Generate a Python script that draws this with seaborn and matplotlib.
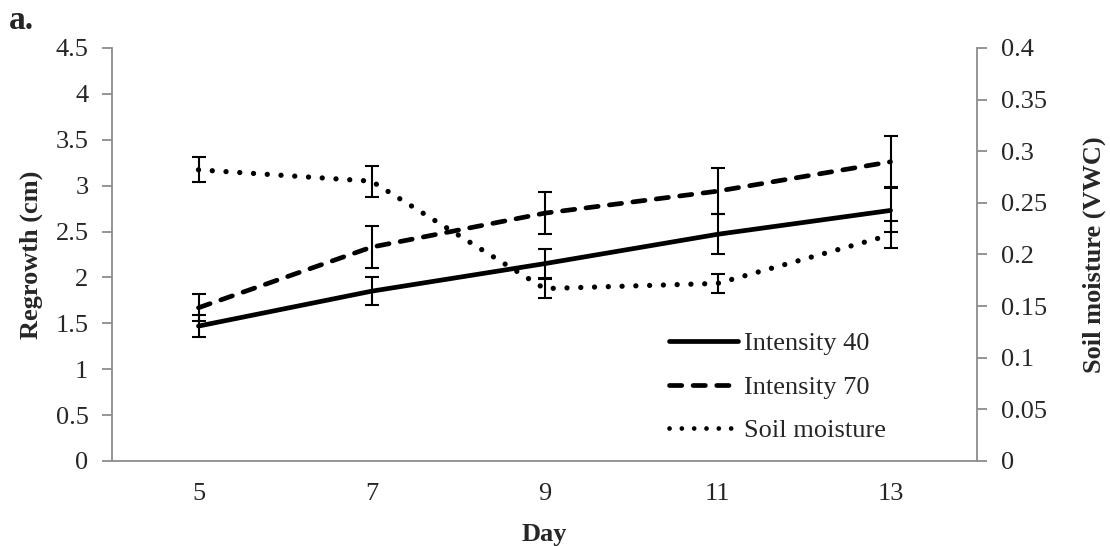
import matplotlib
matplotlib.use("Agg")
import matplotlib.pyplot as plt
from matplotlib.lines import Line2D
import pandas as pd
import seaborn as sb

days = [5, 7, 9, 11, 13]
intensity_40 = [1.47, 1.85, 2.15, 2.47, 2.73]
intensity_40_err = [0.12, 0.15, 0.16, 0.22, 0.24]
intensity_70 = [1.67, 2.33, 2.70, 2.94, 3.26]
intensity_70_err = [0.15, 0.23, 0.23, 0.25, 0.28]
soil_moisture = [0.282, 0.271, 0.167, 0.172, 0.219]
soil_moisture_err = [0.012, 0.015, 0.009, 0.009, 0.013]

grey = "#8c8c8c"
font_size = 19
lw = 3.4

sb.set_style("white")
plt.rcParams['font.family'] = ['Liberation Serif', 'DejaVu Serif']
plt.rcParams['font.size'] = font_size

fig = plt.figure(figsize=(11.1, 5.46), dpi=100)
ax = fig.add_axes([0.1009, 0.1557, 0.7793, 0.7564])
ax2 = ax.twinx()

df = pd.DataFrame({"Day": days, "I40": intensity_40, "I70": intensity_70, "Soil": soil_moisture})

dash_style = (0, (2.6, 2.4))
dot_style = (0, (0.01, 2.6))

sb.lineplot(data=df, x="Day", y="I40", ax=ax, color="black", linewidth=lw,
            solid_capstyle="round")
sb.lineplot(data=df, x="Day", y="I70", ax=ax, color="black", linewidth=lw,
            linestyle=dash_style, dash_capstyle="round")
sb.lineplot(data=df, x="Day", y="Soil", ax=ax2, color="black", linewidth=lw + 0.4,
            linestyle=dot_style, dash_capstyle="round")

ax.errorbar(days, intensity_40, yerr=intensity_40_err, fmt="none", ecolor="black",
            elinewidth=1.5, capsize=5, capthick=1.5)
ax.errorbar(days, intensity_70, yerr=intensity_70_err, fmt="none", ecolor="black",
            elinewidth=1.5, capsize=5, capthick=1.5)
ax2.errorbar(days, soil_moisture, yerr=soil_moisture_err, fmt="none", ecolor="black",
             elinewidth=1.5, capsize=5, capthick=1.5)

# axes limits and ticks
ax.set_xlim(4, 14)
ax.set_ylim(0, 4.5)
ax2.set_ylim(0, 0.4)
ax.set_yticks([0, 0.5, 1, 1.5, 2, 2.5, 3, 3.5, 4, 4.5])
ax.set_yticklabels(["0", "0.5", "1", "1.5", "2", "2.5", "3", "3.5", "4", "4.5"])
ax2.set_yticks([0, 0.05, 0.1, 0.15, 0.2, 0.25, 0.3, 0.35, 0.4])
ax2.set_yticklabels(["0", "0.05", "0.1", "0.15", "0.2", "0.25", "0.3", "0.35", "0.4"])
ax.set_xticks([4, 6, 8, 10, 12, 14])
ax.set_xticklabels([])
ax.set_xticks(days, minor=True)
ax.set_xticklabels([str(d) for d in days], minor=True)

ax.tick_params(axis="x", which="major", length=8, width=1.3, color=grey, direction="out")
ax.tick_params(axis="x", which="minor", length=0, pad=16, labelsize=font_size)
ax.tick_params(axis="y", length=7, width=1.3, color=grey, direction="out", pad=10,
               labelsize=font_size, left=True)
ax2.tick_params(axis="y", length=7, width=1.3, color=grey, direction="out", pad=10,
                labelsize=font_size, right=True)

for a in (ax, ax2):
    for s in a.spines.values():
        s.set_visible(False)
ax.spines["left"].set_visible(True)
ax.spines["bottom"].set_visible(True)
ax2.spines["right"].set_visible(True)
for s in (ax.spines["left"], ax.spines["bottom"], ax2.spines["right"]):
    s.set_color(grey)
    s.set_linewidth(1.3)

ax.set_xlabel("Day", fontweight="bold", fontsize=font_size, labelpad=13)
ax.set_ylabel("Regrowth (cm)", fontweight="bold", fontsize=font_size, labelpad=9)
ax2.set_ylabel("Soil moisture (VWC)", fontweight="bold", fontsize=font_size, labelpad=26)

fig.text(0.008, 0.99, "a.", fontweight="bold", fontsize=24, va="top", ha="left")

handles = [
    Line2D([], [], color="black", linewidth=lw, solid_capstyle="round"),
    Line2D([], [], color="black", linewidth=lw, linestyle=dash_style, dash_capstyle="round"),
    Line2D([], [], color="black", linewidth=lw, linestyle=dot_style, dash_capstyle="round"),
]
ax2.legend(handles, ["Intensity 40", "Intensity 70", "Soil moisture"], loc="upper left",
           bbox_to_anchor=(0.6027, 0.392), bbox_transform=fig.transFigure, frameon=False,
           borderaxespad=0, borderpad=0, handlelength=2.6, handletextpad=0.25,
           labelspacing=0.76, fontsize=font_size)

fig.savefig("out.png", dpi=100)
